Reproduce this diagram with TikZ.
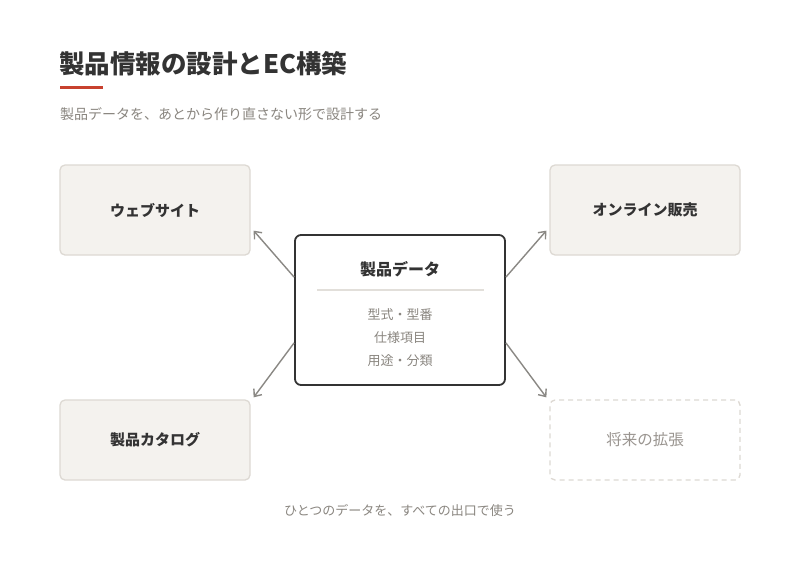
\documentclass[tikz,border=0pt]{standalone}
\usepackage{fontspec}
\setmainfont{Noto Sans CJK JP}
\usetikzlibrary{arrows.meta,calc}
\definecolor{ink}{HTML}{333333}
\definecolor{sub}{HTML}{8A8680}
\definecolor{boxfill}{HTML}{F4F2EE}
\definecolor{boxline}{HTML}{DDD9D3}
\definecolor{accent}{HTML}{C8412F}
\definecolor{arrowc}{HTML}{8A8884}
\definecolor{divc}{HTML}{E2DFDA}
\definecolor{futc}{HTML}{9A9590}
\tikzset{
  outbox/.style={draw=boxline,fill=boxfill,line width=1.3pt,rounded corners=5pt,minimum width=190pt,inner sep=0pt,font=\fontsize{15}{18}\selectfont\bfseries,text=ink},
  futbox/.style={draw=boxline,dashed,dash pattern=on 5pt off 4pt,line width=1.3pt,rounded corners=5pt,minimum width=190pt,minimum height=80pt,inner sep=0pt,font=\fontsize{15.5}{19}\selectfont,text=futc},
  flow/.style={draw=arrowc,line width=1.4pt,-{Straight Barb[length=6pt,width=10pt,line width=1.4pt]}},
  itemtext/.style={font=\fontsize{13}{16}\selectfont,text=sub}
}
\begin{document}
\begin{tikzpicture}[x=1pt,y=-1pt]
\useasboundingbox[fill=white] (0,0) rectangle (800,560);
% title
\node[anchor=west,inner sep=0pt,font=\fontsize{25.5}{30}\selectfont\bfseries,text=ink] (title) at (59,64) {製品情報の設計とEC構築};
\draw[accent,line width=3pt] (60,87) coordinate (ra) -- (103,87) coordinate (rb);
\node[anchor=west,inner sep=0pt,font=\fontsize{14}{17}\selectfont,text=sub] (subtitle) at (60,114) {製品データを、あとから作り直さない形で設計する};
% outer boxes
\node[outbox,minimum height=90pt] (web) at (155,210) {ウェブサイト};
\node[outbox,minimum height=90pt] (online) at (645,210) {オンライン販売};
\node[outbox,minimum height=80pt] (cat) at (155,440) {製品カタログ};
\node[futbox] (fut) at (645,440) {将来の拡張};
% center box
\node[draw=ink,fill=white,line width=1.8pt,rounded corners=6pt,minimum width=210pt,minimum height=150pt,inner sep=0pt] (core) at (400,310) {};
\node[font=\fontsize{16}{19}\selectfont\bfseries,text=ink,inner sep=0pt] (coret) at (400,269) {製品データ};
\draw[divc,line width=1.5pt] ($(core.north west)+(23,56)$) coordinate (d1) -- ($(core.north east)+(-22,56)$) coordinate (d2);
\node[itemtext,inner sep=0pt] (i1) at (400,315) {型式・型番};
\node[itemtext,inner sep=0pt] (i2) at (400,338) {仕様項目};
\node[itemtext,inner sep=0pt] (i3) at (400,361) {用途・分類};
% arrows
\draw[flow] ($(core.north west)+(0,43)$) -- ($(web.south east)+(3,-25)$);
\draw[flow] ($(core.north east)+(0,43)$) -- ($(online.south west)+(-3,-25)$);
\draw[flow] ($(core.south west)+(0,-43)$) -- ($(cat.north east)+(3,-2)$);
\draw[flow] ($(core.south east)+(0,-43)$) -- ($(fut.north west)+(-3,-2)$);
% footer
\node[itemtext,inner sep=0pt] (foot) at (400,510) {ひとつのデータを、すべての出口で使う};
\end{tikzpicture}
\end{document}
